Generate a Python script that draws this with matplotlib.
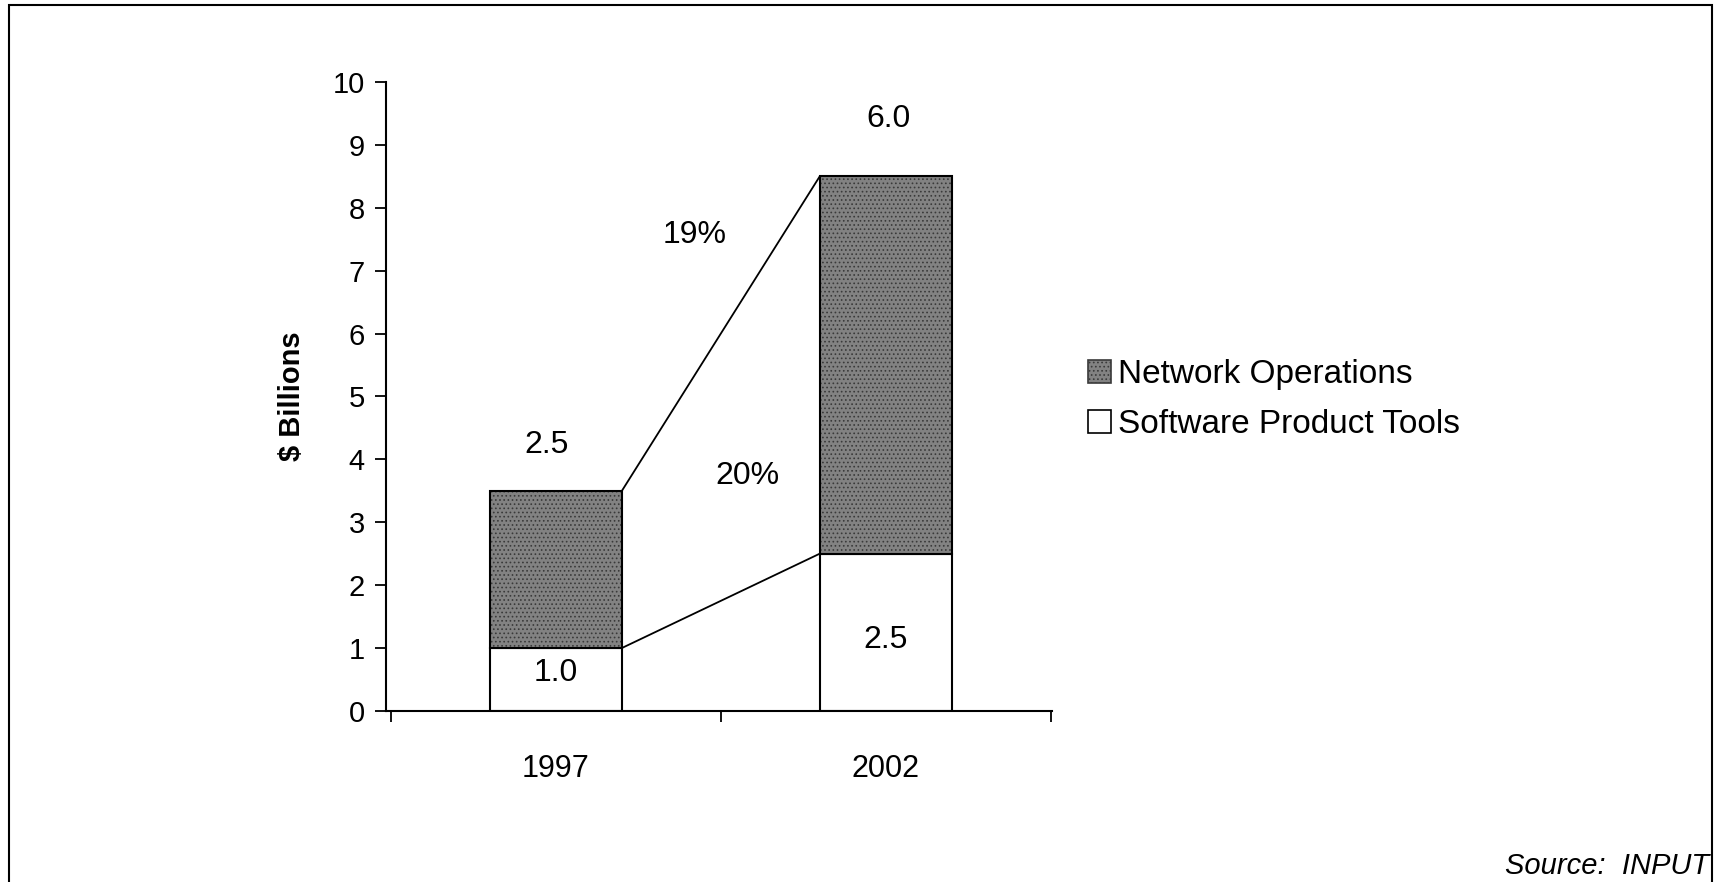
import matplotlib.pyplot as plt
from matplotlib.patches import Rectangle, Patch

plt.rcParams['font.family'] = ['Liberation Sans', 'DejaVu Sans']
plt.rcParams['hatch.linewidth'] = 0.7

years = ['1997', '2002']
software = [1.0, 2.5]
network = [2.5, 6.0]
growth = ['20%', '19%']   # software, network (CAGR)
source = 'Source:  INPUT'

xpos = [0, 1]
width = 0.4
net_color = '#828282'

fig = plt.figure(figsize=(17.21, 8.82), dpi=100)
fig.patch.set_facecolor('white')
# border round the whole exhibit
fig.patches.append(Rectangle((0.005, -0.01), 0.99, 1.004, transform=fig.transFigure,
                             fill=False, edgecolor='black', linewidth=1.5))

ax = fig.add_axes([0.224, 0.194, 0.387, 0.713])

ax.bar(xpos, software, width, color='white', edgecolor='black', linewidth=1.5)
ax.bar(xpos, network, width, bottom=software, color=net_color, edgecolor='#3a3a3a',
       hatch='....', linewidth=0)
ax.bar(xpos, network, width, bottom=software, fill=False, edgecolor='black', linewidth=1.5)

# connector lines between the bars
totals = [s + n for s, n in zip(software, network)]
ax.plot([xpos[0] + width / 2, xpos[1] - width / 2], [totals[0], totals[1]],
        color='black', linewidth=1.3)
ax.plot([xpos[0] + width / 2, xpos[1] - width / 2], [software[0], software[1]],
        color='black', linewidth=1.3)

# value labels
ax.text(xpos[0] - 0.03, totals[0] + 0.73, '%.1f' % network[0], ha='center', va='center', fontsize=23)
ax.text(xpos[1] + 0.01, totals[1] + 0.92, '%.1f' % network[1], ha='center', va='center', fontsize=23)
ax.text(xpos[0], 0.6, '%.1f' % software[0], ha='center', va='center', fontsize=23)
ax.text(xpos[1], 1.12, '%.1f' % software[1], ha='center', va='center', fontsize=23)

ax.text(0.42, 7.57, growth[1], ha='center', va='center', fontsize=23)
ax.text(0.58, 3.74, growth[0], ha='center', va='center', fontsize=23)

ax.set_xlim(-0.517, 1.503)
ax.set_ylim(0, 10)
ax.set_yticks(range(0, 11))
ax.tick_params(axis='y', direction='out', length=8, width=1.3, labelsize=21, pad=7)
ax.set_xticks([-0.5, 0.5, 1.5])
ax.set_xticklabels([])
ax.tick_params(axis='x', which='major', direction='out', length=8, width=1.3)
ax.set_xticks(xpos, minor=True)
ax.set_xticklabels(years, minor=True)
ax.tick_params(axis='x', which='minor', length=0, labelsize=22, pad=31)

ax.spines['top'].set_visible(False)
ax.spines['right'].set_visible(False)
ax.spines['left'].set_linewidth(1.5)
ax.spines['bottom'].set_linewidth(1.5)

ax.set_ylabel('$ Billions', fontsize=21, fontweight='bold', labelpad=19)

handles = [Patch(facecolor=net_color, edgecolor='#3a3a3a', hatch='....', linewidth=1.2),
           Patch(facecolor='white', edgecolor='black', linewidth=1.2)]
fig.legend(handles, ['Network Operations', 'Software Product Tools'],
           loc='center left', bbox_to_anchor=(0.632, 0.547), frameon=False,
           fontsize=24, handlelength=0.7, handleheight=0.7, handletextpad=0.2,
           labelspacing=0.58, borderpad=0, borderaxespad=0)

fig.text(0.993, 0.018, source, ha='right', va='center', fontsize=21, style='italic')

fig.savefig('out.png', dpi=100)
